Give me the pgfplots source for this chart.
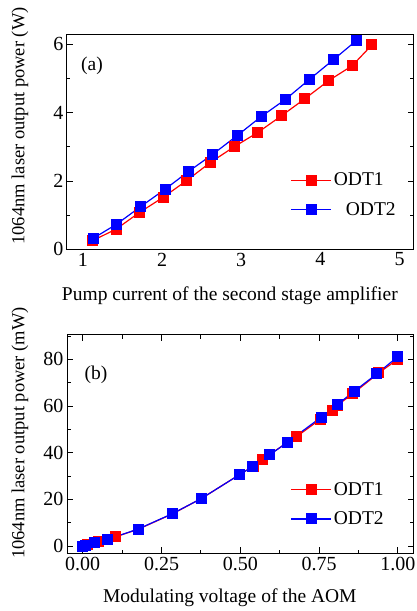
\documentclass[border=0pt]{standalone}
\usepackage{fontspec}
\setmainfont{Liberation Serif}
\usepackage{pgfplots}
\pgfplotsset{compat=1.18}
\pgfplotsset{
  myax/.style={
    scale only axis,
    width=346.5pt,
    tick align=inside,
    major tick length=6pt,
    minor tick length=3.5pt,
    every tick/.style={black, line width=0.8pt},
    axis line style={line width=1pt},
    font=\fontsize{19.5}{23}\selectfont,
    tick label style={font=\fontsize{20}{23}\selectfont},
    /pgf/number format/assume math mode=true,
    ylabel style={font=\fontsize{18.5}{22}\selectfont, rotate=0},
    legend style={draw=none, fill=none, inner sep=0pt, row sep=11pt,
      nodes={inner sep=2pt}, font=\fontsize{19.5}{23}\selectfont},
    legend cell align=left,
    legend image code/.code={\draw[#1,mark repeat=2,mark phase=2] plot coordinates {(0pt,0pt) (20pt,0pt) (40pt,0pt)};},
  },
  redp/.style={color=red, line width=1.2pt, mark=square*, mark size=5pt, mark options={fill=red, draw=red, line width=0pt}},
  bluep/.style={color=blue, line width=1.2pt, mark=square*, mark size=5pt, mark options={fill=blue, draw=blue, line width=0pt}},
}
\begin{document}
\begin{tikzpicture}
\path[use as bounding box] (0pt,0pt) rectangle (417pt,611pt);
% ---------- panel (a) ----------
\begin{axis}[myax,
  at={(67pt,361.7pt)}, anchor=south west,
  height=215.3pt,
  xmin=0.8, xmax=5.175, ymin=0, ymax=6.3,
  xtick={1,2,3,4,5},
  xtick style={draw=none},
  extra x ticks={1.2,2.2,3.19,4.18},
  extra x tick labels={},
  extra x tick style={grid=none, tick style={draw=black, line width=0.8pt}},
  minor xtick={1.7,2.7,3.69,4.68},
  ytick={0,2,4,6},
  minor ytick={1,3,5},
  xlabel={Pump current of the second stage amplifier},
  xlabel style={at={(axis description cs:0.47,-0.217)}, anchor=center},
  ylabel={1064nm laser output power (W)},
  ylabel style={at={(axis description cs:-0.136,0.573)}, anchor=center},
  legend style={at={(axis description cs:0.645,0.365)}, anchor=north west},
]
\addplot[redp] coordinates {
(1.12,0.25) (1.42,0.59) (1.71,1.07) (2.02,1.53) (2.31,2.01) (2.61,2.54)
(2.91,3.00) (3.21,3.42) (3.51,3.91) (3.80,4.40) (4.10,4.93) (4.40,5.37) (4.65,5.98)};
\addlegendentry{ODT1}
\addplot[bluep] coordinates {
(1.13,0.32) (1.43,0.74) (1.73,1.25) (2.04,1.76) (2.33,2.27) (2.64,2.78)
(2.95,3.33) (3.25,3.88) (3.56,4.39) (3.86,4.97) (4.17,5.56) (4.46,6.12)};
\addlegendentry{\hspace{12pt}ODT2}
\node[font=\fontsize{19.5}{23}\selectfont] at (rel axis cs:0.072,0.854) {(a)};
\end{axis}
% ---------- panel (b) ----------
\begin{axis}[myax,
  at={(67pt,57.7pt)}, anchor=south west,
  height=218.3pt,
  xmin=-0.05, xmax=1.05, ymin=-3.1, ymax=90.4,
  xtick={0,0.25,0.5,0.75,1},
  minor xtick={0.125,0.375,0.625,0.875},
  xticklabel style={/pgf/number format/.cd, fixed, fixed zerofill, precision=2},
  ytick={0,20,40,60,80},
  minor ytick={10,30,50,70,90},
  xlabel={Modulating voltage of the AOM},
  xlabel style={at={(axis description cs:0.47,-0.205)}, anchor=center},
  ylabel={1064nm laser output power (mW)},
  ylabel style={at={(axis description cs:-0.136,0.551)}, anchor=center},
  legend style={at={(axis description cs:0.645,0.335)}, anchor=north west},
]
\addplot[redp] coordinates {
(0,0) (0.015,0.5) (0.05,2.0) (0.105,4.0) (0.176,7.2) (0.285,13.8) (0.377,20.4)
(0.499,30.7) (0.541,34.2) (0.571,37.2) (0.649,44.3) (0.679,46.9) (0.754,54.3)
(0.793,57.9) (0.808,60.3) (0.857,65.2) (0.94,74.2) (1.0,80.0)};
\addlegendentry{ODT1}
\addplot[bluep] coordinates {
(0,0) (0.01,0.3) (0.038,1.7) (0.08,2.9) (0.176,7.3) (0.285,13.9) (0.377,20.4)
(0.499,30.7) (0.539,34.0) (0.594,39.1) (0.649,44.4) (0.757,55.2) (0.809,60.7)
(0.863,66.4) (0.933,73.7) (1.0,81.1)};
\addlegendentry{ODT2}
\node[font=\fontsize{19.5}{23}\selectfont] at (rel axis cs:0.084,0.817) {(b)};
\end{axis}
\end{tikzpicture}
\end{document}
